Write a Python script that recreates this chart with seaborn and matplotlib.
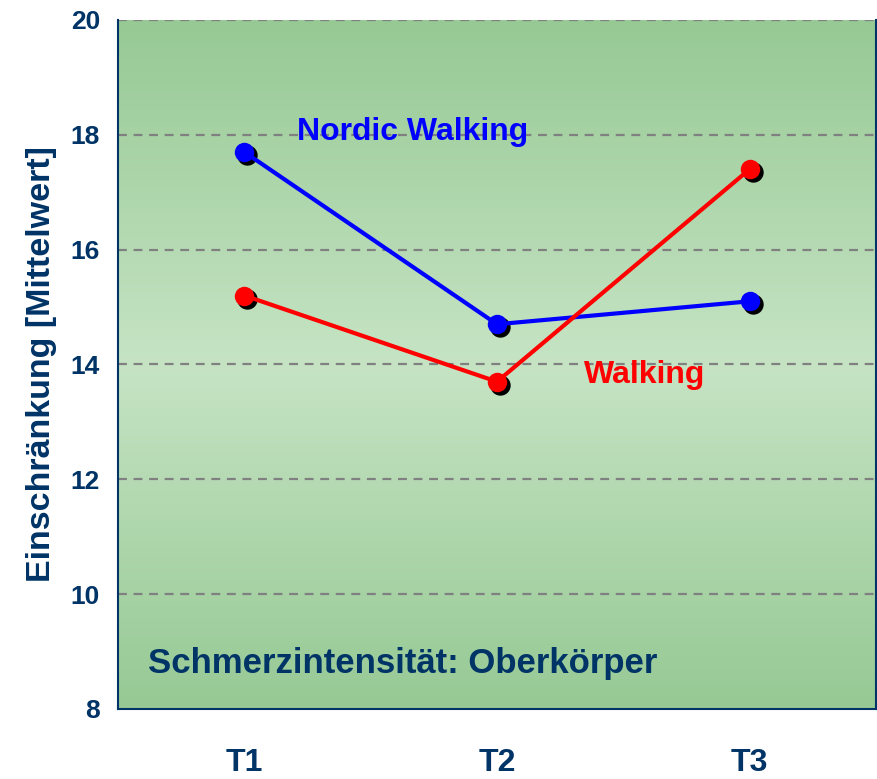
import numpy as np
import pandas as pd
import matplotlib
matplotlib.use("Agg")
import matplotlib.pyplot as plt
import matplotlib.transforms as mtransforms
from matplotlib.colors import LinearSegmentedColormap
import seaborn as sns

# data
zeitpunkte = ["T1", "T2", "T3"]
nordic_walking = [17.7, 14.7, 15.1]
walking = [15.2, 13.7, 17.4]

navy = "#003366"

sns.set_style("white")
plt.rcParams['font.family'] = ['Liberation Sans', 'DejaVu Sans']
plt.rcParams['font.weight'] = 'bold'
plt.rcParams['axes.labelweight'] = 'bold'

df = pd.DataFrame({
    "pos": list(range(len(zeitpunkte))) * 2,
    "wert": nordic_walking + walking,
    "gruppe": ["Nordic Walking"] * 3 + ["Walking"] * 3,
})

fig = plt.figure(figsize=(8.78, 7.79), dpi=100)
ax = fig.add_axes([0.1344, 0.0899, 0.8633, 0.8845])

# green vertical gradient background
grad = LinearSegmentedColormap.from_list("g", ["#96c994", "#c6e4c4", "#96c994"])
ax.imshow(np.linspace(0, 1, 256).reshape(-1, 1), cmap=grad, aspect="auto",
          extent=[0, 1, 0, 1], transform=ax.transAxes, zorder=0)

# gridlines
for yv in [10, 12, 14, 16, 18, 20]:
    ax.axhline(yv, color="#808080", lw=1.6, ls=(0, (4, 3)), zorder=1)

# shadows under markers
shadow = mtransforms.offset_copy(ax.transData, fig=fig, x=3, y=-3, units="dots")
ax.scatter(df["pos"], df["wert"], s=215, color="black", transform=shadow, zorder=3,
           linewidths=0)

sns.lineplot(data=df, x="pos", y="wert", hue="gruppe",
             palette={"Nordic Walking": "#0000ff", "Walking": "#ff0000"},
             lw=3, marker="o", markersize=14, markeredgewidth=0,
             legend=False, ax=ax, zorder=4)

ax.set_xlim(-0.5, 2.5)
ax.set_ylim(8, 20)
ax.set_yticks(range(8, 21, 2))
ax.set_xticks(range(3))
ax.set_xticklabels(zeitpunkte)
ax.set_xticks([-0.5, 0.5, 1.5, 2.5], minor=True)
ax.tick_params(axis="x", which="major", length=0, pad=28, labelsize=23, colors=navy)
ax.tick_params(axis="x", which="minor", length=10, width=1.3, color=navy, direction="out")
ax.tick_params(axis="y", length=8, width=1.3, color=navy, labelsize=19, labelcolor=navy,
               direction="out", pad=5)
ax.set_xlabel("")
ax.set_ylabel("Einschränkung [Mittelwert]", fontsize=24.5, color=navy, labelpad=10)

for side in ["left", "bottom", "right"]:
    ax.spines[side].set_color(navy)
    ax.spines[side].set_linewidth(1.5)
ax.spines["top"].set_visible(False)

ax.text(0.668, 18.05, "Nordic Walking", color="#0000ff", fontsize=23, ha="center", va="center", zorder=5)
ax.text(1.583, 13.82, "Walking", color="#ff0000", fontsize=23, ha="center", va="center", zorder=5)
ax.text(0.039, 0.066, "Schmerzintensität: Oberkörper", color=navy, fontsize=25,
        transform=ax.transAxes, ha="left", va="center", zorder=5)

fig.savefig("out.png", dpi=100)
